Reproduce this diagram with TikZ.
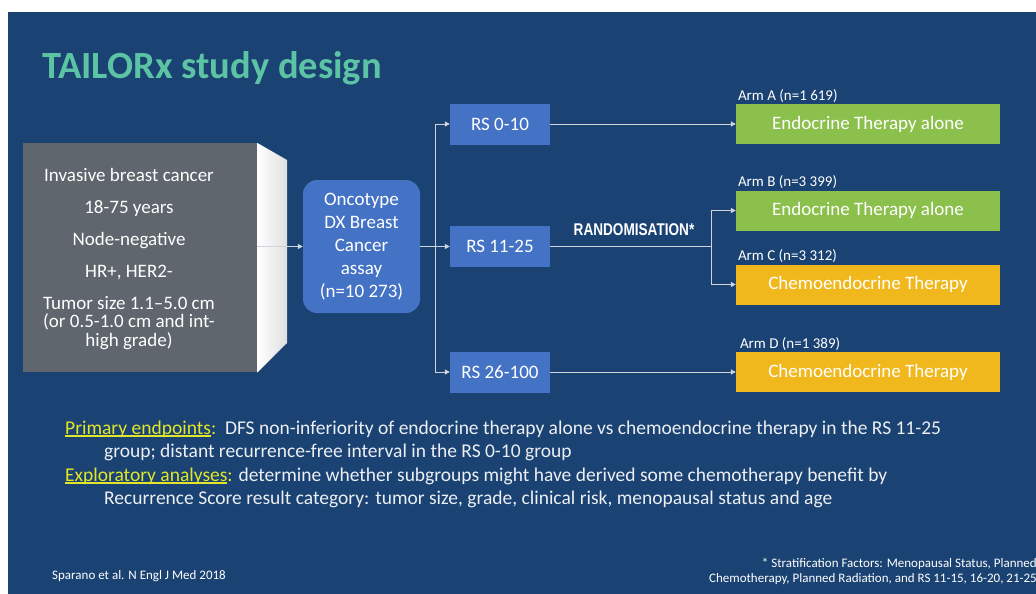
\documentclass[tikz,border=0pt]{standalone}
\usepackage{fontspec}
\setmainfont{Carlito}
\newfontfamily\randfont[FakeStretch=0.8]{Liberation Sans}
\usepackage{tikz}
\usetikzlibrary{positioning,arrows.meta}

\definecolor{bgblue}{HTML}{1A4272}
\definecolor{titleteal}{HTML}{5CC4A5}
\definecolor{popgray}{HTML}{5F666D}
\definecolor{boxblue}{HTML}{4472C4}
\definecolor{armgreen}{HTML}{8CC04C}
\definecolor{armyellow}{HTML}{F0B81C}
\definecolor{hiyellow}{HTML}{E2E62A}
\definecolor{linegray}{HTML}{D0D4DC}
\definecolor{bodywhite}{HTML}{ECEFF3}

\newlength\ulwd
\newcommand\ultext[1]{\settowidth{\ulwd}{#1}\rlap{\rule[-2.5pt]{\ulwd}{1.1pt}}#1}

\begin{document}
\begin{tikzpicture}[
    x=1pt, y=-1pt,
    every node/.style={text=white},
    rsbox/.style={fill=boxblue, minimum width=100pt, minimum height=41pt, inner sep=0pt, font=\fontsize{19}{22}\selectfont},
    armbox/.style={minimum width=264pt, minimum height=40pt, inner sep=0pt, font=\fontsize{19}{22}\selectfont},
    armlabel/.style={inner sep=0pt, font=\fontsize{15}{17}\selectfont},
    bodytext/.style={anchor=base west, inner sep=0pt, text=bodywhite, font=\fontsize{19.5}{22}\selectfont},
    smalltext/.style={inner sep=0pt, font=\fontsize{13}{15}\selectfont},
    link/.style={draw=linegray, line width=1pt},
    arr/.style={link, -{Triangle[length=5pt,width=5pt]}}
]
\fill[white] (0,0) rectangle (1036,594);
\fill[bgblue] (8,12) rectangle (1036,594);
\useasboundingbox (0,0) rectangle (1036,594);

\node[anchor=base west, inner sep=0pt, text=titleteal, font=\fontsize{38.5}{42}\selectfont\bfseries] (title) at (42,78) {TAILORx study design};

\node[fill=popgray, minimum width=234pt, minimum height=229pt, inner sep=0pt, anchor=north west] (pop) at (23,143) {};
\shade[left color=white, right color=gray!25] (pop.north east) -- (287,160) -- (287,343) -- (pop.south east) -- cycle;
\node[align=center, font=\fontsize{19}{18.5}\selectfont] (popText) at (129,259) {Invasive breast cancer\\[13.5pt]
    18-75 years\\[13.5pt]
    Node-negative\\[13.5pt]
    HR+, HER2-\\[13.5pt]
    Tumor size 1.1–5.0 cm\\
    (or 0.5-1.0 cm and int-\\
    high grade)};

\node[fill=boxblue, rounded corners=14pt, minimum width=117pt, minimum height=133pt, align=center, font=\fontsize{19}{23}\selectfont] (onco) at (361.5,246.5) {Oncotype\\DX Breast\\Cancer\\assay\\(n=10 273)};

\node[rsbox] (rs1) at (500,124) {RS 0-10};
\node[rsbox] (rs2) at (500,246.5) {RS 11-25};
\node[rsbox] (rs3) at (500,372) {RS 26-100};

\node[armbox, fill=armgreen] (armA) at (868,124) {Endocrine Therapy alone};
\node[armbox, fill=armgreen] (armB) at (868,210.5) {Endocrine Therapy alone};
\node[armbox, fill=armyellow] (armC) at (868,284.5) {Chemoendocrine Therapy};
\node[armbox, fill=armyellow] (armD) at (868,372) {Chemoendocrine Therapy};

\node[armlabel, above right=1.5pt and 2pt of armA.north west] (labA) {Arm A (n=1 619)};
\node[armlabel, above right=1.5pt and 2pt of armB.north west] (labB) {Arm B (n=3 399)};
\node[armlabel, above right=1.5pt and 2pt of armC.north west] (labC) {Arm C (n=3 312)};
\node[armlabel, above right=1.5pt and 4pt of armD.north west] (labD) {Arm D (n=1 389)};

\draw[arr] (onco.west -| pop.east) -- (onco.west);
\coordinate (fork) at (435,246.5);
\draw[arr] (onco.east) -- (rs2.west);
\draw[arr] (fork) |- (rs1.west);
\draw[arr] (fork) |- (rs3.west);

\draw[arr] (rs1.east) -- (armA.west);
\draw[arr] (rs3.east) -- (armD.west);
\coordinate (rand) at (711,246.5);
\draw[link] (rs2.east) -- (rand);
\draw[arr] (rand) |- (armB.west);
\draw[arr] (rand) |- (armC.west);
\node[anchor=base, inner sep=0pt, font=\randfont\bfseries\fontsize{17}{20}\selectfont] (randText) at (634,235) {RANDOMISATION*};

\node[bodytext] (prim) at (65,434) {{\color{hiyellow}\ultext{Primary endpoints}:}\ \ DFS non-inferiority of endocrine therapy alone vs chemoendocrine therapy in the RS 11-25};
\node[bodytext] (prim2) at (104,457) {group; distant recurrence-free interval in the RS 0-10 group};
\node[bodytext] (expl) at (65,481) {{\color{hiyellow}\ultext{Exploratory analyses}:} determine whether subgroups might have derived some chemotherapy benefit by};
\node[bodytext] (expl2) at (104,504) {Recurrence Score result category: tumor size, grade, clinical risk, menopausal status and age};

\node[smalltext, anchor=base west] (ref) at (52,579) {Sparano et al. N Engl J Med 2018};
\node[smalltext, anchor=base east] (foot1) at (1037,567) {* Stratification Factors: Menopausal Status, Planned};
\node[smalltext, anchor=base east] (foot2) at (1037,582) {Chemotherapy, Planned Radiation, and RS 11-15, 16-20, 21-25};
\end{tikzpicture}
\end{document}
